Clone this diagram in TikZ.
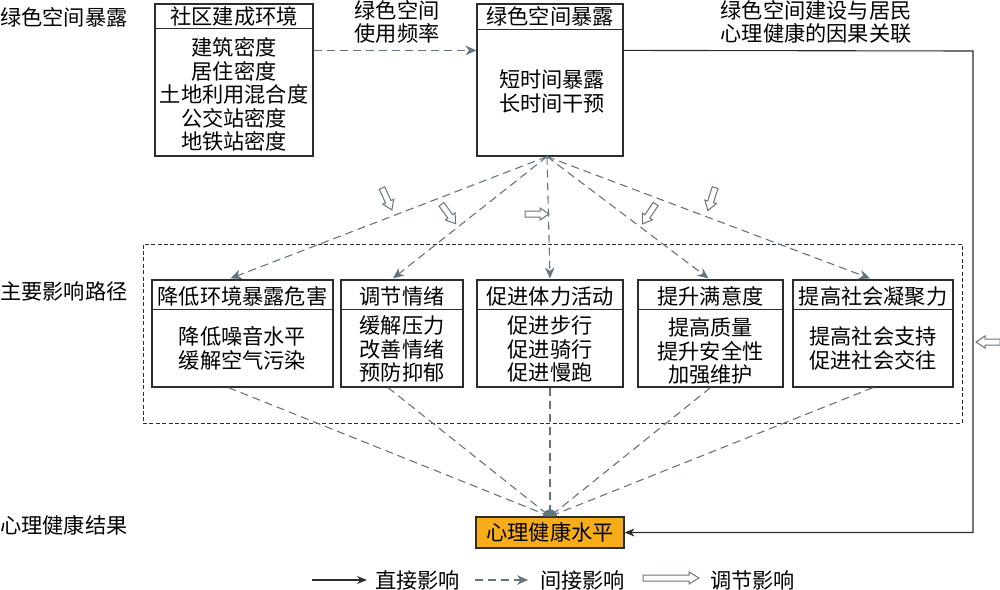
\documentclass[tikz,border=0pt]{standalone}
\usepackage{fontspec}
\setmainfont{Noto Sans CJK SC}
\usetikzlibrary{arrows.meta,calc,fit}
\definecolor{lgray}{RGB}{100,116,128}
\definecolor{boxline}{RGB}{45,45,45}
\definecolor{orangefill}{RGB}{247,173,25}
\begin{document}
\begin{tikzpicture}[x=0.5pt,y=-0.5pt,
  font=\fontsize{10.6pt}{11.75pt}\selectfont,
  frame/.style={draw=boxline, line width=0.6pt, inner sep=0pt},
  lbl/.style={inner sep=0pt, align=center},
  hdrline/.style={draw=boxline, line width=0.6pt},
  indline/.style={draw=lgray, line width=0.55pt, dash pattern=on 4pt off 2.5pt},
  ind/.style={indline, -{Stealth[length=5.5pt,width=4.8pt]}},
  dir/.style={draw=boxline, line width=0.55pt, -{Stealth[length=5pt,width=4pt]}},
  hollow/.pic={\draw[lgray, line width=0.5pt, fill=white] (-12,-3) -- (3,-3) -- (3,-6) -- (12,0) -- (3,6) -- (3,3) -- (-12,3) -- cycle;},
  hollowlong/.pic={\draw[lgray, line width=0.5pt, fill=white] (-28,-3) -- (18,-3) -- (18,-6) -- (28,0) -- (18,6) -- (18,3) -- (-28,3) -- cycle;}
]
\useasboundingbox (0,0) rectangle (1000,589);

% left labels
\node[lbl] (l1) at (64,17) {绿色空间暴露};
\node[lbl] (l2) at (64,291) {主要影响路径};
\node[lbl] (l3) at (64,525) {心理健康结果};

% top boxes
\node[frame, fit={(155,4)(313,156)}] (b1) {};
\draw[hdrline] ($(b1.north west)+(0,25)$) -- ($(b1.north east)+(0,25)$);
\node[lbl] (b1h) at ($(b1.north)+(0,13)$) {社区建成环境};
\node[lbl] (b1t) at (234,94.5) {建筑密度\\居住密度\\土地利用混合度\\公交站密度\\地铁站密度};

\node[frame, fit={(477,4)(623,156)}] (b2) {};
\draw[hdrline] ($(b2.north west)+(0,26)$) -- ($(b2.north east)+(0,26)$);
\node[lbl] (b2h) at ($(b2.north)+(0,13)$) {绿色空间暴露};
\node[lbl] (b2t) at (552,91.5) {短时间暴露\\长时间干预};

\draw[ind] ($(b1.north east)+(0,47)$) -- ($(b2.north west)+(0,47)$);
\node[lbl] (f1) at (397,22) {绿色空间\\使用频率};
\node[lbl] (f2) at (816,22) {绿色空间建设与居民\\心理健康的因果关联};

% group
\node[draw=boxline, line width=0.5pt, dash pattern=on 2pt off 1.2pt, inner sep=0pt, fit={(143,244)(962,423)}] (grp) {};

% path boxes
\node[frame, fit={(152,280)(333,387)}] (pA) {};
\node[frame, fit={(341,280)(463,387)}] (pB) {};
\node[frame, fit={(477,280)(623,387)}] (pC) {};
\node[frame, fit={(638,280)(783,387)}] (pD) {};
\node[frame, fit={(793,280)(953,387)}] (pE) {};
\foreach \b in {pA,pB,pC,pD,pE}{
  \draw[hdrline] ($(\b.north west)+(0,30)$) -- ($(\b.north east)+(0,30)$);
}
\node[lbl] (pAh) at ($(pA.north)+(0,17)$) {降低环境暴露危害};
\node[lbl] (pBh) at ($(pB.north)+(0,17)$) {调节情绪};
\node[lbl] (pCh) at ($(pC.north)+(0,17)$) {促进体力活动};
\node[lbl] (pDh) at ($(pD.north)+(0,17)$) {提升满意度};
\node[lbl] (pEh) at ($(pE.north)+(0,17)$) {提高社会凝聚力};
\node[lbl] (pAt) at (242.5,348.5) {降低噪音水平\\缓解空气污染};
\node[lbl] (pBt) at (402,349) {缓解压力\\改善情绪\\预防抑郁};
\node[lbl] (pCt) at (550,349) {促进步行\\促进骑行\\促进慢跑};
\node[lbl] (pDt) at (710.5,351) {提高质量\\提升安全性\\加强维护};
\node[lbl] (pEt) at (873,348.5) {提高社会支持\\促进社会交往};

% outcome
\node[frame, fill=orangefill, fit={(476,517)(624,548)}] (mh) {};
\node[lbl] (mht) at (550,532) {心理健康水平};

% arrows from exposure to paths
\coordinate (src) at ($(b2.south)+(-3,0)$);
\draw[ind] (src) -- ($(pA.north)+(-12,-1)$);
\draw[ind] (src) -- ($(pB.north)+(-9,-1)$);
\draw[ind] (src) -- ($(pC.north)+(0,-1)$);
\draw[ind] (src) -- ($(pD.north)+(-2,-1)$);
\draw[ind] (src) -- ($(pE.north)+(-3,-1)$);

% arrows from paths to outcome (converging heads form a dome)
\draw[indline] ($(pA.south)+(-14,0)$) -- (mh.north);
\draw[indline] ($(pB.south)+(-14,0)$) -- (mh.north);
\draw[indline] (pC.south) -- (mh.north);
\draw[indline] (pD.south) -- (mh.north);
\draw[indline] (pE.south) -- (mh.north);
\fill[lgray] ($(mh.north)+(-7,0)$) arc[start angle=180, end angle=0, radius=3.5pt] -- cycle;

% direct effect
\coordinate (c1) at (973,51);
\coordinate (c2) at (973,532.5);
\draw[dir] ($(b2.north east)+(0,47)$) -- (c1) -- (c2) -- (mh.east);

% moderation arrows
\pic[rotate=-65.6] at (387,199) {hollow};
\pic[rotate=-54] at (448.5,214) {hollow};
\pic at (537,214) {hollow};
\pic[rotate=-123.7] at (649,214) {hollow};
\pic[rotate=-107.6] at (711.5,199) {hollow};
\pic[rotate=180] at (988,342) {hollow};

% legend
\coordinate (la1) at (312,580);
\coordinate (la2) at (367,580);
\draw[dir] (la1) -- (la2);
\node[lbl] (lt1) at (417.5,580) {直接影响};
\coordinate (lb1) at (475,580);
\coordinate (lb2) at (528,580);
\draw[ind] (lb1) -- (lb2);
\node[lbl] (lt2) at (582.5,580) {间接影响};
\pic at (671,578) {hollowlong};
\node[lbl] (lt3) at (752.5,580) {调节影响};
\end{tikzpicture}
\end{document}
